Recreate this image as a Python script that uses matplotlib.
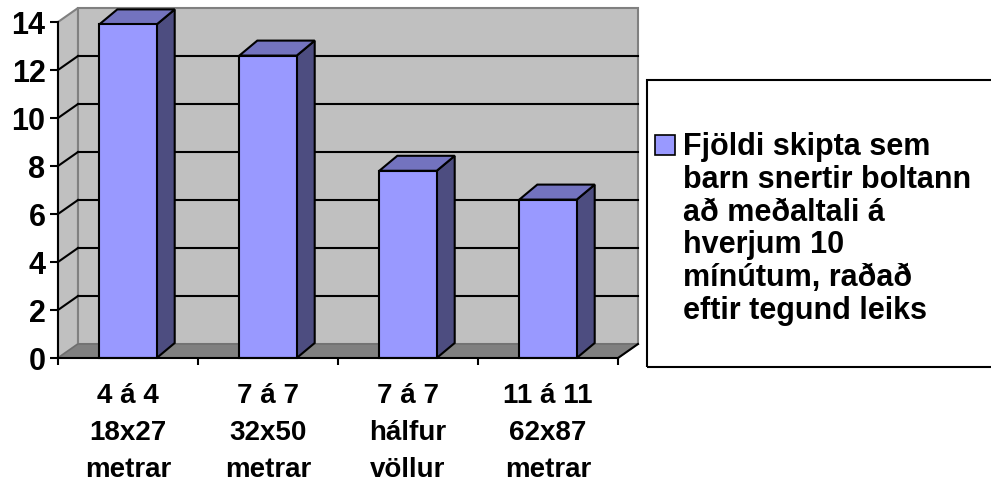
import numpy as np
import matplotlib
matplotlib.use("Agg")
import matplotlib.pyplot as plt
from matplotlib.patches import Polygon, Rectangle

# Data
categories = ["4 á 4\n18x27\nmetrar", "7 á 7\n32x50\nmetrar",
              "7 á 7\nhálfur\nvöllur", "11 á 11\n62x87\nmetrar"]
values = [13.9, 12.6, 7.8, 6.6]
y_ticks = [0, 2, 4, 6, 8, 10, 12, 14]
legend_label = ("Fjöldi skipta sem\nbarn snertir boltann\nað meðaltali á\n"
                "hverjum 10\nmínútum, raðað\neftir tegund leiks")

plt.rcParams['font.family'] = ['Liberation Sans', 'DejaVu Sans']
plt.rcParams['font.weight'] = 'bold'

W, H = 991, 490
fig = plt.figure(figsize=(W / 100, H / 100), dpi=100)
ax = fig.add_axes([58 / W, 132 / H, 560 / W, 336 / H])
n = len(values)
ymax = y_ticks[-1]
ax.set_xlim(-0.5, n - 0.5)
ax.set_ylim(0, ymax)
ax.patch.set_visible(False)

# 3D depth offsets in data units
wall_dx, wall_dy = 20 / 140, 14 / 24
bar_dx, bar_dy = 18 / 140, 15 / 24
bar_w = 0.41

front_col = '#9999FF'
side_col = '#4D4D80'
top_col = '#7373BF'
wall_col = '#C0C0C0'
floor_col = '#808080'

x0, x1 = -0.5, n - 0.5
# side wall, back wall, floor
ax.add_patch(Polygon([(x0, 0), (x0, ymax), (x0 + wall_dx, ymax + wall_dy), (x0 + wall_dx, wall_dy)],
                     closed=True, facecolor=wall_col, edgecolor='#808080', lw=1.5, zorder=0.5, clip_on=False))
ax.add_patch(Polygon([(x0 + wall_dx, wall_dy), (x0 + wall_dx, ymax + wall_dy),
                      (x1 + wall_dx, ymax + wall_dy), (x1 + wall_dx, wall_dy)],
                     closed=True, facecolor=wall_col, edgecolor='#808080', lw=1.5, zorder=0.5, clip_on=False))
ax.add_patch(Polygon([(x0, 0), (x1, 0), (x1 + wall_dx, wall_dy), (x0 + wall_dx, wall_dy)],
                     closed=True, facecolor=floor_col, edgecolor='#6E6E6E', lw=1.0, zorder=0.6, clip_on=False))
ax.plot([x1, x1 + wall_dx], [0, wall_dy], color='black', lw=1.5, zorder=0.9, clip_on=False)

# gridlines on back wall and side wall
for v in y_ticks[1:-1]:
    ax.plot([x0 + wall_dx, x1 + wall_dx], [v + wall_dy, v + wall_dy], color='black', lw=1.5, zorder=0.8, clip_on=False)
    ax.plot([x0, x0 + wall_dx], [v, v + wall_dy], color='black', lw=1.5, zorder=0.8, clip_on=False)

# bars
xs = np.arange(n)
ax.bar(xs, values, width=bar_w, color=front_col, edgecolor='black', lw=1.5, zorder=3, clip_on=False)
for x, v in zip(xs, values):
    l, r = x - bar_w / 2, x + bar_w / 2
    ax.add_patch(Polygon([(r, 0), (r, v), (r + bar_dx, v + bar_dy), (r + bar_dx, bar_dy)],
                         closed=True, facecolor=side_col, edgecolor='black', lw=1.5, zorder=2.8, clip_on=False))
    ax.add_patch(Polygon([(l, v), (r, v), (r + bar_dx, v + bar_dy), (l + bar_dx, v + bar_dy)],
                         closed=True, facecolor=top_col, edgecolor='black', lw=1.5, zorder=2.8, clip_on=False))

# axes
for s in ['top', 'right']:
    ax.spines[s].set_visible(False)
for s in ['left', 'bottom']:
    ax.spines[s].set_linewidth(1.5)
    ax.spines[s].set_zorder(3.5)

ax.set_yticks(y_ticks)
ax.set_yticklabels([str(t) for t in y_ticks], fontsize=22, fontweight='bold')
ax.tick_params(axis='y', direction='out', length=6, width=1.5, pad=3)

ax.set_xticks(np.arange(n + 1) - 0.5)
ax.set_xticklabels([])
ax.tick_params(axis='x', which='major', direction='out', length=5, width=1.5)
ax.set_xticks(xs, minor=True)
ax.set_xticklabels(categories, minor=True, fontsize=20, fontweight='bold', linespacing=1.56)
ax.tick_params(axis='x', which='minor', length=0, pad=18)

# legend box
fig.add_artist(Rectangle((647 / W, (H - 367) / H), 400 / W, 287 / H, transform=fig.transFigure,
                         fill=False, edgecolor='black', lw=1.5, clip_on=False))
fig.add_artist(Rectangle((655 / W, (H - 155) / H), 20 / W, 20 / H, transform=fig.transFigure,
                         facecolor=front_col, edgecolor='black', lw=1.2))
fig.text(683 / W, (H - 132) / H, legend_label, ha='left', va='top', fontsize=22,
         fontweight='bold', linespacing=1.12)

fig.savefig('out.png', dpi=100)
